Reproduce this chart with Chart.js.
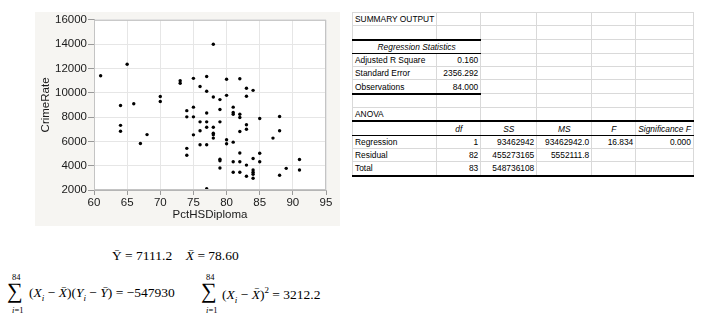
<!DOCTYPE html>
<html><head><meta charset="utf-8">
<script src="https://cdn.jsdelivr.net/npm/chart.js@4"></script>
<style>
html,body{margin:0;padding:0}
body{width:703px;height:321px;background:#fff;position:relative;overflow:hidden;font-family:"Liberation Sans",Arial,sans-serif}
#box{position:absolute;left:35px;top:12px;width:305px;height:214px;background:#f6f5f2}
#c{position:absolute;left:0;top:0}
#tbl{position:absolute;left:352px;top:12px;border-collapse:collapse;table-layout:fixed;font-size:8.4px;color:#000}
#tbl td{border:1px solid #d9d9d9;height:12.3px;padding:0 2px;white-space:nowrap;overflow:visible;line-height:10px}
#tbl td.r{text-align:right}
#tbl td.c{text-align:center}
#tbl td.i{font-style:italic}
.tt{border-top:2px solid #000 !important}
.tb{border-bottom:1px solid #000 !important}
.tbb{border-bottom:2px solid #000 !important}
.f{position:absolute;font-family:"Liberation Serif","Times New Roman",serif;font-size:13.5px;color:#000;white-space:nowrap}
.sig{position:absolute;font-family:"Liberation Serif",serif;font-size:22px;line-height:22px}
.sm{position:absolute;font-family:"Liberation Serif",serif;font-size:8.5px;line-height:10px}
</style></head>
<body>
<div id="box"><canvas id="c" width="305" height="214"></canvas></div>

<table id="tbl">
<colgroup><col style="width:81px"><col style="width:44px"><col style="width:56px"><col style="width:55px"><col style="width:44px"><col style="width:56px"></colgroup>
<tr><td>SUMMARY OUTPUT</td><td></td><td></td><td></td><td></td><td></td></tr>
<tr><td></td><td></td><td></td><td></td><td></td><td></td></tr>
<tr><td colspan="2" class="c i tt tb">Regression Statistics</td><td></td><td></td><td></td><td></td></tr>
<tr><td>Adjusted R Square</td><td class="r">0.160</td><td></td><td></td><td></td><td></td></tr>
<tr><td>Standard Error</td><td class="r">2356.292</td><td></td><td></td><td></td><td></td></tr>
<tr><td class="tbb">Observations</td><td class="r tbb">84.000</td><td></td><td></td><td></td><td></td></tr>
<tr><td></td><td></td><td></td><td></td><td></td><td></td></tr>
<tr><td class="tbb">ANOVA</td><td class="tbb"></td><td class="tbb"></td><td class="tbb"></td><td class="tbb"></td><td class="tbb"></td></tr>
<tr><td class="tb"></td><td class="c i tb">df</td><td class="c i tb">SS</td><td class="c i tb">MS</td><td class="c i tb">F</td><td class="c i tb">Significance F</td></tr>
<tr><td>Regression</td><td class="r">1</td><td class="r">93462942</td><td class="r">93462942.0</td><td class="r">16.834</td><td class="r">0.000</td></tr>
<tr><td>Residual</td><td class="r">82</td><td class="r">455273165</td><td class="r">5552111.8</td><td></td><td></td></tr>
<tr><td class="tbb">Total</td><td class="r tbb">83</td><td class="r tbb">548736108</td><td class="tbb"></td><td class="tbb"></td><td class="tbb"></td></tr>
</table>

<div class="f" style="left:112px;top:248px">Ȳ = 7111.2 &nbsp;&nbsp; <i>X̄</i> = 78.60</div>
<div class="sm" style="left:12px;top:272px">84</div>
<div class="sig" style="left:7px;top:280px">∑</div>
<div class="sm" style="left:12px;top:305px"><i>i</i>=1</div>
<div class="f" style="left:29px;top:285px">(<i>X<sub style="font-size:9px">i</sub></i> − <i>X̄</i>)(<i>Y<sub style="font-size:9px">i</sub></i> − <i>Ȳ</i>) = −547930</div>
<div class="sm" style="left:206px;top:272px">84</div>
<div class="sig" style="left:201px;top:280px">∑</div>
<div class="sm" style="left:206px;top:305px"><i>i</i>=1</div>
<div class="f" style="left:222px;top:285px">(<i>X<sub style="font-size:9px">i</sub></i> − <i>X̄</i>)<sup style="font-size:9px">2</sup> = 3212.2</div>

<script>
const pctHSDiploma = [61,64,64,64,65,66,67,68,70,70,73,73,74,74,74,74,75,75,75,75,76,76,76,76,77,77,77,77,77,77,77,78,78,78,78,78,78,79,79,79,79,79,79,80,80,80,80,81,81,81,81,81,81,82,82,82,82,82,82,82,83,83,83,83,83,83,84,84,84,84,84,84,85,85,85,87,88,88,88,89,91,91];
const crimeRate = [11400,8950,7320,6840,12350,9100,5830,6560,9700,9290,11000,10780,8530,8020,5430,4860,11190,8820,8020,6540,10520,7610,6880,5730,11340,10130,8340,7610,7160,5730,2100,14000,9660,7160,6670,6540,6270,9440,8630,7610,4540,4400,3810,11110,9790,6130,5810,8820,8380,8240,5940,4330,3460,11160,8240,7970,6820,5050,4330,3460,10370,9710,7370,7000,4050,3130,10200,4590,3650,3460,3300,2970,7890,5020,4330,6270,8050,6880,3220,3780,4510,3650];
const xTicks = [60,65,70,75,80,85,90,95];
const yTicks = [2000,4000,6000,8000,10000,12000,14000,16000];

const points = pctHSDiploma.map((x,i)=>({x:x,y:crimeRate[i]}));

const plotFrame = {
  id:'plotFrame',
  beforeDraw(c){const {ctx,chartArea:a}=c;ctx.save();ctx.fillStyle='#fff';ctx.fillRect(a.left,a.top,a.width,a.height);ctx.restore();},
  afterDraw(c){const {ctx,chartArea:a}=c;ctx.save();ctx.strokeStyle='#c4c4c4';ctx.lineWidth=1;ctx.strokeRect(a.left+0.5,a.top+0.5,a.width-1,a.height-1);ctx.restore();}
};
const tickFont={family:'"Liberation Sans", Arial, sans-serif',size:11.5};
new Chart(document.getElementById('c'),{
  type:'scatter',
  data:{datasets:[{data:points,pointRadius:1.7,pointHoverRadius:1.7,backgroundColor:'#000',borderWidth:0}]},
  options:{
    responsive:false,animation:false,devicePixelRatio:1,
    layout:{padding:{top:5,right:14,left:0,bottom:0}},
    plugins:{legend:{display:false},tooltip:{enabled:false}},
    scales:{
      x:{type:'linear',min:xTicks[0],max:xTicks[xTicks.length-1],
        afterBuildTicks:s=>{s.ticks=xTicks.map(v=>({value:v}));},
        ticks:{font:tickFont,color:'#1a1a1a',padding:1,maxRotation:0},
        grid:{color:'#e6e6e6',tickColor:'#9a9a9a',tickLength:5},
        border:{color:'#b5b5b5'},
        title:{display:true,text:'PctHSDiploma',font:tickFont,color:'#1a1a1a'},
        afterFit:s=>{s.height=36;}},
      y:{min:yTicks[0],max:yTicks[yTicks.length-1],
        afterBuildTicks:s=>{s.ticks=yTicks.map(v=>({value:v}));},
        ticks:{font:tickFont,color:'#1a1a1a',padding:1,callback:v=>String(v)},
        grid:{color:'#e6e6e6',tickColor:'#9a9a9a',tickLength:6},
        border:{color:'#b5b5b5'},
        title:{display:true,text:'CrimeRate',font:tickFont,color:'#1a1a1a'},
        afterFit:s=>{s.width=59;}}
    }
  },
  plugins:[plotFrame]
});
</script>
</body></html>
